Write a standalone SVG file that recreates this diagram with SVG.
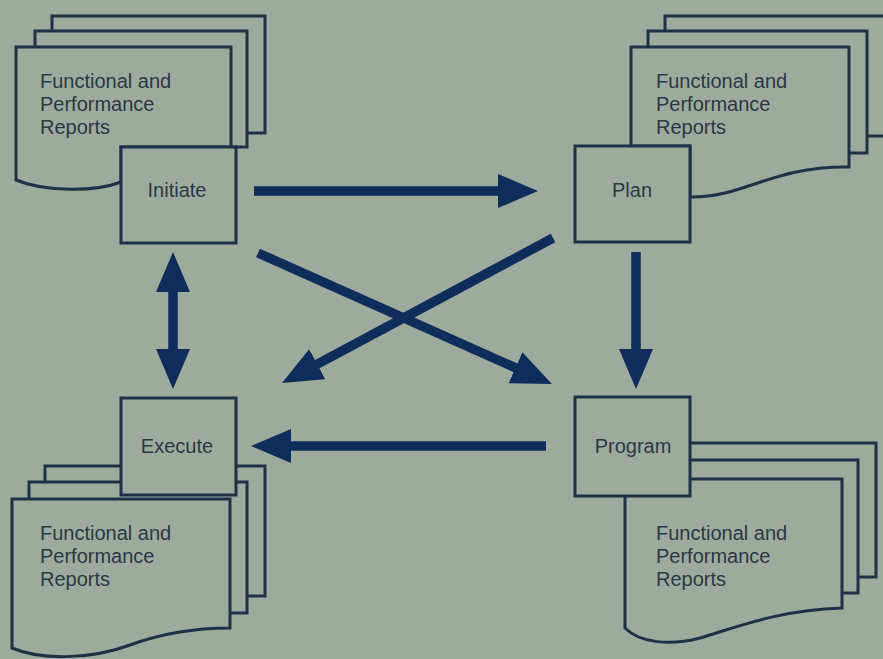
<svg xmlns="http://www.w3.org/2000/svg" width="883" height="659" viewBox="0 0 883 659">
  <style>
    .sheet { fill: #9eab9c; stroke: #1e3148; stroke-width: 3; stroke-linejoin: miter; }
    .box { fill: #9eab9c; stroke: #1e3148; stroke-width: 3; }
    .doc { font-family: "Liberation Sans", Arial, sans-serif; font-size: 20px; fill: #2a3848; }
    .lbl { font-family: "Liberation Sans", Arial, sans-serif; font-size: 20px; fill: #2a3848; text-anchor: middle; }
    .flow { stroke: #0e2d5b; stroke-width: 9.5; fill: none; marker-end: url(#head); }
  </style>
  <defs>
    <marker id="head" viewBox="0 0 40 34" refX="20" refY="17" markerWidth="40" markerHeight="34" markerUnits="userSpaceOnUse" orient="auto-start-reverse">
      <path d="M0,0 L40,17 L0,34 Z" fill="#0e2d5b"/>
    </marker>
  </defs>

  <rect width="883" height="659" fill="#9eab9c"/>

  <!-- Initiate with its report stack -->
  <g id="initiate">
    <rect class="sheet" x="52" y="16" width="213" height="117"/>
    <rect class="sheet" x="35" y="31" width="212" height="116"/>
    <path class="sheet" d="M16,47 H231 V147 H121 V182 C 95,192 45,192 16,180 Z"/>
    <text class="doc" x="40" y="88">Functional and</text>
    <text class="doc" x="40" y="111">Performance</text>
    <text class="doc" x="40" y="134">Reports</text>
    <rect class="box" x="121" y="147" width="115" height="96"/>
    <text class="lbl" x="177" y="197">Initiate</text>
  </g>

  <!-- Plan with its report stack -->
  <g id="plan">
    <rect class="sheet" x="665" y="16" width="240" height="120"/>
    <rect class="sheet" x="648" y="31" width="219" height="122"/>
    <path class="sheet" d="M631,47 H849 V167 C 770,166 745,198 690,197 V146 H631 Z"/>
    <text class="doc" x="656" y="88">Functional and</text>
    <text class="doc" x="656" y="111">Performance</text>
    <text class="doc" x="656" y="134">Reports</text>
    <rect class="box" x="575" y="146" width="115" height="96"/>
    <text class="lbl" x="632" y="197">Plan</text>
  </g>

  <!-- Execute with its report stack -->
  <g id="execute">
    <rect class="sheet" x="45" y="466" width="220" height="130"/>
    <rect class="sheet" x="29" y="482" width="218" height="131"/>
    <rect class="box" x="121" y="398" width="115" height="97"/>
    <text class="lbl" x="177" y="453">Execute</text>
    <path class="sheet" d="M12,499 H230 V628 C 190,628 160,634 130,645 C 90,660 40,660 12,648 Z"/>
    <text class="doc" x="40" y="540">Functional and</text>
    <text class="doc" x="40" y="563">Performance</text>
    <text class="doc" x="40" y="586">Reports</text>
  </g>

  <!-- Program with its report stack -->
  <g id="program">
    <rect class="sheet" x="640" y="443" width="236" height="134"/>
    <rect class="sheet" x="635" y="460" width="223" height="133"/>
    <path class="sheet" d="M625,479 H842 V608 C 780,610 740,626 700,638 C 670,646 640,643 625,628 Z"/>
    <text class="doc" x="656" y="540">Functional and</text>
    <text class="doc" x="656" y="563">Performance</text>
    <text class="doc" x="656" y="586">Reports</text>
    <rect class="box" x="575" y="397" width="115" height="99"/>
    <text class="lbl" x="633" y="453">Program</text>
  </g>

  <!-- Connectors -->
  <g id="connectors">
    <line class="flow" x1="254" y1="191" x2="518" y2="191"/>
    <line class="flow" x1="258" y1="253" x2="533.7" y2="375.9"/>
    <line class="flow" x1="553" y1="238" x2="299.6" y2="373.6"/>
    <line class="flow" x1="636" y1="252" x2="636" y2="369"/>
    <line class="flow" x1="546" y1="446" x2="271" y2="446"/>
    <line class="flow" x1="173" y1="272" x2="173" y2="369" style="marker-start: url(#head)"/>
  </g>
</svg>
